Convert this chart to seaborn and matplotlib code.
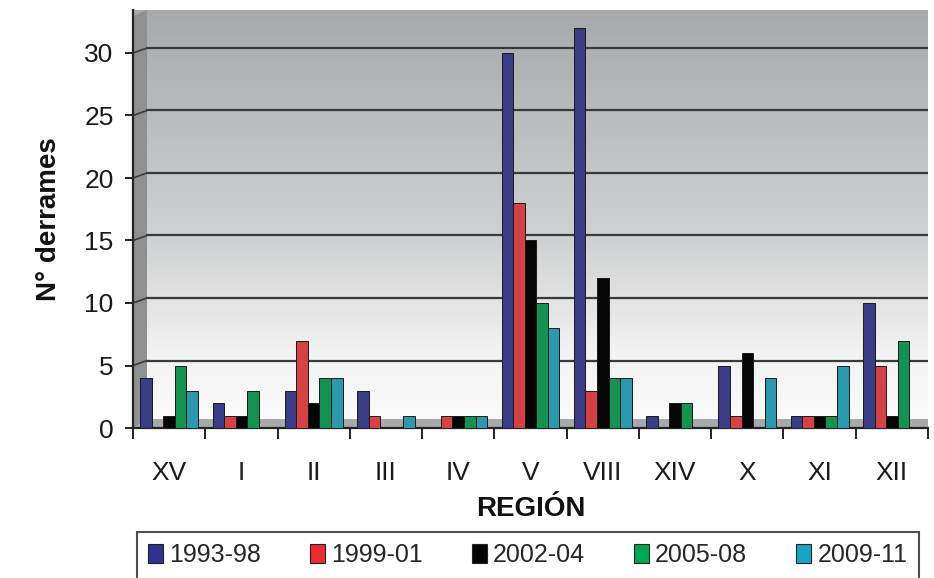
import numpy as np
import pandas as pd
import matplotlib
matplotlib.use("Agg")
import matplotlib.pyplot as plt
import matplotlib.transforms as mtransforms
from matplotlib.patches import Polygon, Patch
from matplotlib.colors import LinearSegmentedColormap
import seaborn as sns

regions = ["XV", "I", "II", "III", "IV", "V", "VIII", "XIV", "X", "XI", "XII"]
periods = ["1993-98", "1999-01", "2002-04", "2005-08", "2009-11"]
v_1993_98 = [4, 2, 3, 3, 0, 30, 32, 1, 5, 1, 10]
v_1999_01 = [0, 1, 7, 1, 1, 18, 3, 0, 1, 1, 5]
v_2002_04 = [1, 1, 2, 0, 1, 15, 12, 2, 6, 1, 1]
v_2005_08 = [5, 3, 4, 0, 1, 10, 4, 2, 0, 1, 7]
v_2009_11 = [3, 0, 4, 1, 1, 8, 4, 0, 4, 5, 0]
yticks = [0, 5, 10, 15, 20, 25, 30]
colors = ["#2e3192", "#ed2a2f", "#050505", "#00a651", "#16a6c4"]

series = [v_1993_98, v_1999_01, v_2002_04, v_2005_08, v_2009_11]
df = pd.DataFrame({
    "region": np.repeat([regions], len(periods), axis=0).ravel(),
    "period": np.repeat(periods, len(regions)),
    "value": np.concatenate(series),
})

sns.set_theme(style="white")
plt.rcParams["font.family"] = ["Liberation Sans", "DejaVu Sans"]

W, H = 934, 578
fig = plt.figure(figsize=(W / 100, H / 100), dpi=100)
ax = fig.add_axes([133 / W, 1 - 428 / H, 795 / W, 418 / H])
ymax = 418 / 12.5
ax.set_ylim(0, ymax)
ax.set_xlim(-0.5, len(regions) - 0.5)

# background gradient (back wall)
grad = np.linspace(0, 1, 256).reshape(-1, 1)
cmap = LinearSegmentedColormap.from_list(
    "bg", [(0, "#fbfbfb"), (0.18, "#f2f2f2"), (0.45, "#d0d1d2"), (1, "#a7a9ab")])
ax.imshow(grad, aspect="auto", cmap=cmap, origin="lower",
          extent=[0, 1, 0, 1], transform=ax.transAxes, zorder=0)

# left wall and floor (3D look)
dx = 14 / 795
dy = 6 / 418
ax.add_patch(Polygon([[0, 0], [dx, dy], [dx, 1], [0, 1 - dy]], closed=True,
                     transform=ax.transAxes, facecolor="#8e9092", edgecolor="none", zorder=1))
ax.add_patch(Polygon([[0, 0], [dx, 9 / 418], [1, 9 / 418], [1, 0]], closed=True,
                     transform=ax.transAxes, facecolor="#a8a9ab", edgecolor="none", zorder=1))

# gridlines on back wall (offset for depth)
off = mtransforms.ScaledTranslation(0, 5 / 100, fig.dpi_scale_trans)
for t in yticks[1:]:
    ax.plot([dx, 1], [t, t], transform=ax.get_yaxis_transform() + off,
            color="#3a3a3a", lw=1.6, zorder=1.5)
    ax.plot([0, dx], [t, t + 0.4], color="#3a3a3a", lw=1.2, zorder=1.5,
            transform=ax.get_yaxis_transform())

sns.barplot(data=df, x="region", y="value", hue="period", order=regions,
            hue_order=periods, palette=colors, width=0.8, ax=ax,
            edgecolor="#1a1a1a", linewidth=0.7, legend=False, zorder=3)

ax.set_ylim(0, ymax)
ax.set_xlim(-0.5, len(regions) - 0.5)

for s in ["top", "right"]:
    ax.spines[s].set_visible(False)
for s in ["left", "bottom"]:
    ax.spines[s].set_color("#222222")
    ax.spines[s].set_linewidth(1.6)

ax.set_yticks(yticks)
ax.set_yticklabels([str(t) for t in yticks], fontsize=19, color="#1a1a1a")
ax.tick_params(axis="y", length=6, width=1.4, color="#222222", pad=8, left=True)

ax.set_xticks(np.arange(len(regions) + 1) - 0.5)
ax.set_xticklabels([])
ax.set_xticks(np.arange(len(regions)), minor=True)
ax.set_xticklabels(regions, minor=True, fontsize=19, color="#1a1a1a")
ax.tick_params(axis="x", which="major", length=8, width=1.4, color="#222222", bottom=True)
ax.tick_params(axis="x", which="minor", length=0, pad=24, bottom=True)

ax.set_xlabel("REGIÓN", fontsize=20, fontweight="bold", labelpad=8, color="#111111")
ax.set_ylabel("N° derrames", fontsize=20, fontweight="bold", labelpad=16, color="#111111")

handles = [Patch(facecolor=c, edgecolor="#222222", linewidth=0.8) for c in colors]
leg = fig.legend(handles, periods, loc="upper left", bbox_to_anchor=(137 / W, 1 - 532 / H),
                 ncol=5, fontsize=18, frameon=True, fancybox=False, edgecolor="#222222",
                 handlelength=0.6, handleheight=0.8, handletextpad=0.25, columnspacing=1.95,
                 borderpad=0.45, borderaxespad=0)
leg.get_frame().set_linewidth(1.5)

fig.savefig("out.png", dpi=100)
